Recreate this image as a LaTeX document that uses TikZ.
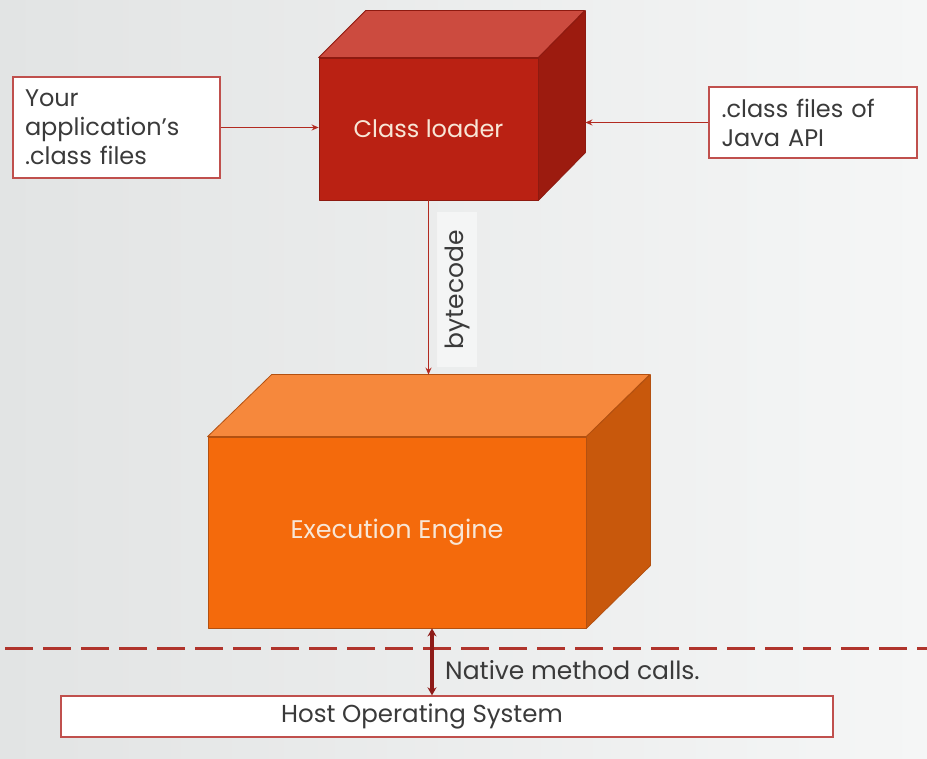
\documentclass[tikz,border=0pt]{standalone}
\usepackage{fontspec}
\setmainfont{Poppins}
\usetikzlibrary{arrows.meta,calc}
\definecolor{bgl}{HTML}{E2E4E4}
\definecolor{bgr}{HTML}{F5F6F6}
\definecolor{clfront}{HTML}{BA2113}
\definecolor{cltop}{HTML}{CC4B3F}
\definecolor{clside}{HTML}{9C1B0F}
\definecolor{cledge}{HTML}{8E1A10}
\definecolor{eefront}{HTML}{F46A0C}
\definecolor{eetop}{HTML}{F6883C}
\definecolor{eeside}{HTML}{C8580C}
\definecolor{eeedge}{HTML}{B35010}
\definecolor{boxred}{HTML}{C0504D}
\definecolor{txt}{HTML}{3A3A3A}
\definecolor{cream}{HTML}{F8E6D6}
\definecolor{arrred}{HTML}{B22A20}
\definecolor{dkred}{HTML}{8E1B18}
\definecolor{dashred}{HTML}{B0342C}
\begin{document}
\begin{tikzpicture}[x=1pt,y=-1pt,
  txtbox/.style={draw=boxred, line width=1.6pt, fill=white, text=txt,
    font=\fontsize{24}{29}\selectfont, align=left, inner xsep=12pt, inner ysep=0pt},
  face/.style={line width=0.8pt, line join=round},
  feed/.style={draw=arrred, line width=1.3pt, -{Stealth[length=7pt,width=6pt]}},
  dbl/.style={draw=dkred, line width=3.5pt, {Stealth[length=8pt,width=9pt]}-{Stealth[length=8pt,width=9pt]}},
  lbl/.style={text=txt, font=\fontsize{25}{29}\selectfont, inner sep=0pt}
]
\useasboundingbox (0,0) rectangle (927,759);
\shade[left color=bgl,right color=bgr] (0,0) rectangle (927,759);

% Class loader cube
\node[draw=cledge, fill=clfront, face, minimum width=219pt, minimum height=142pt,
  text=cream, font=\fontsize{24}{28}\selectfont, inner sep=0pt] (cl) at (428.5,129) {Class loader};
\filldraw[draw=cledge, fill=cltop, face] (cl.north west) -- ++(47,-47) -- ++(219,0) -- (cl.north east) -- cycle;
\filldraw[draw=cledge, fill=clside, face] (cl.north east) -- ++(47,-47) -- ++(0,142) -- (cl.south east) -- cycle;
\coordinate (clback) at ($(cl.east)+(47,0)$);

% Execution engine cube
\node[draw=eeedge, fill=eefront, face, minimum width=378pt, minimum height=191pt,
  text=cream, font=\fontsize{25.5}{30}\selectfont, inner sep=0pt] (ee) at (397,532.5) {Execution Engine};
\filldraw[draw=eeedge, fill=eetop, face] (ee.north west) -- ++(64,-62) -- ++(378,0) -- (ee.north east) -- cycle;
\filldraw[draw=eeedge, fill=eeside, face] (ee.north east) -- ++(64,-62) -- ++(0,191) -- (ee.south east) -- cycle;
\coordinate (eeback) at ($(ee.north)+(64,-62)$);

% side boxes
\node[txtbox, minimum width=207pt, minimum height=101pt, text width=183pt] (app) at (116.5,127.5)
  {Your\\application's\\.class files};
\node[txtbox, minimum width=208pt, minimum height=71pt, text width=183pt] (api) at (813,122.5)
  {.class files of\\Java API};

% OS box
\node[txtbox, line width=1.3pt, minimum width=772pt, minimum height=41pt, inner xsep=0pt, align=center,
  font=\fontsize{24.5}{29}\selectfont] (os) at (447,716.5)
  {Host Operating System\hspace*{50pt}};

% dashed boundary
\draw[dashred, line width=3pt, dash pattern=on 28pt off 10pt, dash phase=33pt] (0,648) -- (927,648);

% connectors
\draw[feed] (app.east) -- (app.east -| cl.west);
\draw[feed] (api.west) -- (api.west -| clback);
\draw[feed] (cl.south) -- (cl.south |- eeback);
\draw[dbl] ([xshift=35pt]ee.south) -- ([xshift=35pt]ee.south |- os.north);

% labels
\node[lbl, rotate=90, fill=white, fill opacity=0.45, text opacity=1, minimum width=155pt, minimum height=40pt] (bc) at (457,290) {bytecode};
\node[lbl, anchor=west] (nm) at (445,670) {Native method calls.};
\end{tikzpicture}
\end{document}
